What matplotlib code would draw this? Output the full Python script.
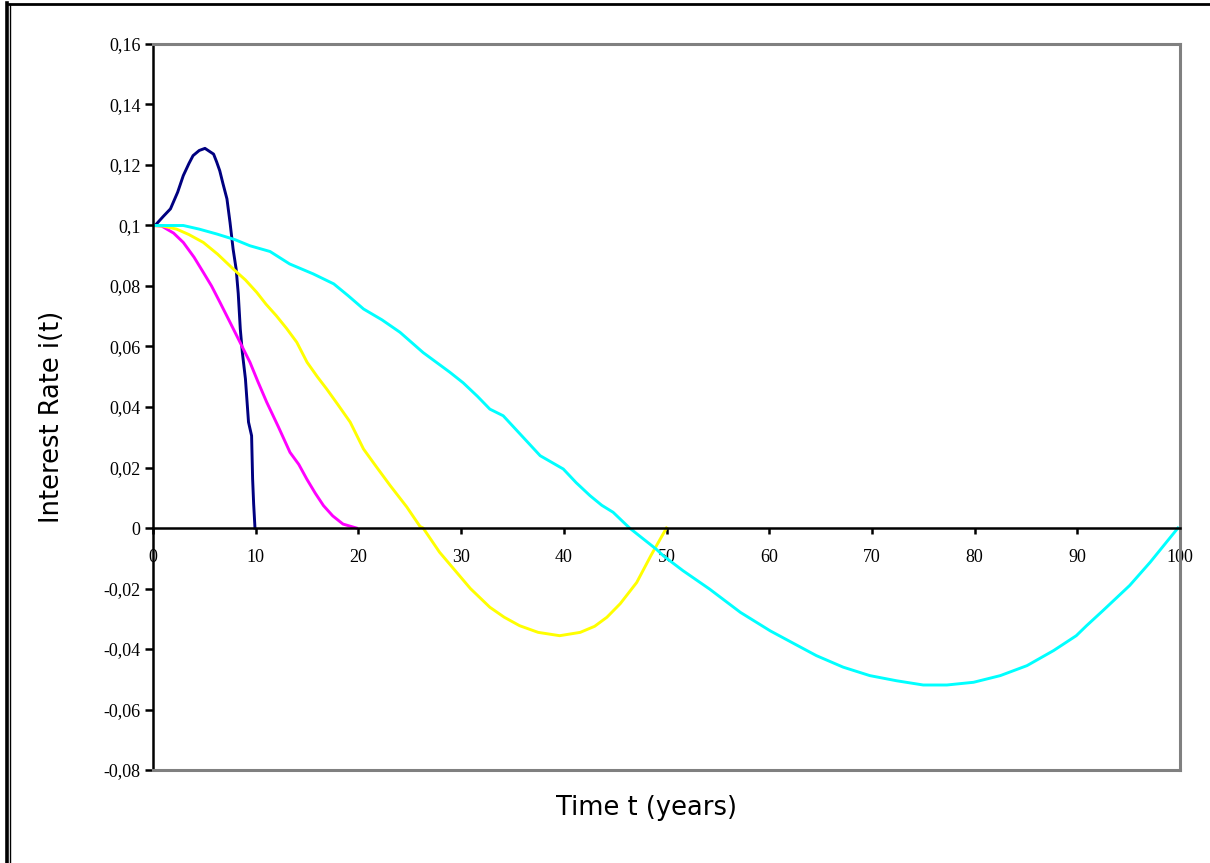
import numpy as np
import matplotlib
matplotlib.use("Agg")
import matplotlib.pyplot as plt
from matplotlib.lines import Line2D

# --- DATA ---
t_10 = [0, 0.2, 1.0, 1.7, 2.4, 2.95, 3.5, 3.9, 4.5, 5.06, 5.5, 5.9, 6.2, 6.5, 6.8, 7.2,
        7.5, 7.8, 8.1, 8.3, 8.5, 8.7, 9.0, 9.3, 9.5, 9.6, 9.7, 9.8, 9.93]
i_10 = [0.1, 0.1, 0.103, 0.1055, 0.111, 0.1165, 0.1205, 0.1231, 0.1248, 0.1255, 0.1245,
        0.1236, 0.121, 0.1181, 0.114, 0.1088, 0.101, 0.0922, 0.0855, 0.0775, 0.0658,
        0.058, 0.0493, 0.035, 0.032, 0.0305, 0.0162, 0.008, 0.0]

t_20 = [0, 0.85, 2.0, 2.95, 4.0, 4.9, 5.7, 6.52, 7.5, 8.47, 9.44, 10.2, 11.07, 12.2,
        13.34, 14.2, 14.97, 15.8, 16.6, 17.5, 18.5, 19.8]
i_20 = [0.1, 0.0998, 0.0975, 0.0944, 0.0895, 0.0845, 0.08, 0.0746, 0.068, 0.0614, 0.0548,
        0.0485, 0.0416, 0.0335, 0.025, 0.021, 0.0162, 0.0115, 0.0074, 0.004, 0.0013, 0.0]

t_50 = [0, 1.0, 2.3, 3.5, 4.9, 6.3, 7.82, 9.0, 10.1, 11.0, 12.0, 13.0, 14.0, 15.0, 16.0,
        16.9, 18.0, 19.2, 20.5, 21.8, 23.1, 24.7, 26.0, 26.3, 27.9, 29.4, 30.9, 32.8,
        34.2, 35.7, 37.5, 39.6, 41.6, 43.0, 44.2, 45.5, 47.1, 48.5, 50.0]
i_50 = [0.1, 0.0998, 0.0988, 0.097, 0.0944, 0.0905, 0.0856, 0.082, 0.0779, 0.074, 0.0702,
        0.066, 0.0614, 0.0548, 0.05, 0.046, 0.0408, 0.035, 0.0261, 0.02, 0.014, 0.007,
        0.0005, 0.0, -0.008, -0.014, -0.020, -0.0262, -0.0295, -0.0323, -0.0345, -0.0356,
        -0.0345, -0.0325, -0.0295, -0.025, -0.018, -0.009, 0.0]

t_100 = [0, 2.95, 4.5, 6.2, 8.0, 9.44, 11.4, 13.3, 15.6, 17.6, 19.0, 20.5, 22.3, 24.05,
         26.3, 28.9, 30.2, 31.6, 32.8, 34.1, 35.9, 37.7, 39.95, 41.2, 42.55, 43.7, 44.8,
         46.4, 49.0, 49.7, 51.6, 54.2, 57.2, 60.1, 62.4, 64.6, 67.2, 69.8, 72.4, 75.0,
         77.3, 79.9, 82.5, 85.1, 87.7, 89.9, 90.9, 92.5, 95.1, 97.1, 99.8]
i_100 = [0.1, 0.1, 0.0988, 0.0972, 0.0953, 0.0933, 0.0914, 0.0873, 0.084, 0.0807, 0.0768,
         0.0724, 0.0688, 0.0647, 0.058, 0.0515, 0.048, 0.0435, 0.0393, 0.0371, 0.0305,
         0.0239, 0.0195, 0.015, 0.0107, 0.0075, 0.0052, 0.0, -0.007, -0.0092, -0.0141,
         -0.0202, -0.0279, -0.034, -0.0382, -0.0422, -0.046, -0.0488, -0.0505, -0.0519,
         -0.0519, -0.051, -0.0488, -0.0455, -0.0405, -0.0356, -0.0323, -0.0273, -0.019,
         -0.0113, 0.0]

x_ticks = list(range(0, 101, 10))
y_ticks = [0.16, 0.14, 0.12, 0.1, 0.08, 0.06, 0.04, 0.02, 0, -0.02, -0.04, -0.06, -0.08]
y_tick_labels = ["0,16", "0,14", "0,12", "0,1", "0,08", "0,06", "0,04", "0,02", "0",
                 "-0,02", "-0,04", "-0,06", "-0,08"]

# --- FIGURE ---
fig = plt.figure(figsize=(12.1, 8.63), dpi=100)
ax = fig.add_axes([153 / 1210, 1 - 770 / 863, (1180 - 153) / 1210, (770 - 44) / 863])

lw = 2.1
ax.plot(t_10, i_10, color="#000080", lw=lw)
ax.plot(t_20, i_20, color="#FF00FF", lw=lw)
ax.plot(t_50, i_50, color="#FFFF00", lw=lw)
ax.plot(t_100, i_100, color="#00FFFF", lw=lw)

ax.set_xlim(0, 100)
ax.set_ylim(-0.08, 0.16)

# zero line acts as the x axis
ax.spines["bottom"].set_position(("data", 0))
ax.spines["bottom"].set_color("black")
ax.spines["bottom"].set_linewidth(1.8)
ax.spines["left"].set_color("black")
ax.spines["left"].set_linewidth(1.8)
for side in ("top", "right"):
    ax.spines[side].set_color("#808080")
    ax.spines[side].set_linewidth(2.2)
ax.axhline(-0.08, color="#808080", lw=2.2, clip_on=False, zorder=3)

serif = "Liberation Serif"
ax.set_xticks(x_ticks)
ax.set_xticklabels([str(v) for v in x_ticks], family=serif, fontsize=13)
ax.set_yticks(y_ticks)
ax.set_yticklabels(y_tick_labels, family=serif, fontsize=13)
ax.tick_params(axis="x", direction="out", length=4, width=1.8, pad=11)
ax.tick_params(axis="y", direction="out", length=6, width=1.8, pad=3)

fig.text(647 / 1210, 1 - 808 / 863, "Time t (years)", fontsize=18.5,
         ha="center", va="center")
fig.text(52 / 1210, 1 - 417 / 863, "Interest Rate i(t)", fontsize=18.5,
         rotation=90, ha="center", va="center")

# outer frame lines
fig.add_artist(Line2D([9 / 1210, 1], [1 - 4 / 863, 1 - 4 / 863], color="black", lw=2))
fig.add_artist(Line2D([6.5 / 1210, 6.5 / 1210], [0, 1 - 3 / 863], color="black", lw=2.6))
fig.add_artist(Line2D([9.7 / 1210, 9.7 / 1210], [0, 1 - 4 / 863], color="black", lw=1.0))

fig.savefig("out.png", dpi=100)
